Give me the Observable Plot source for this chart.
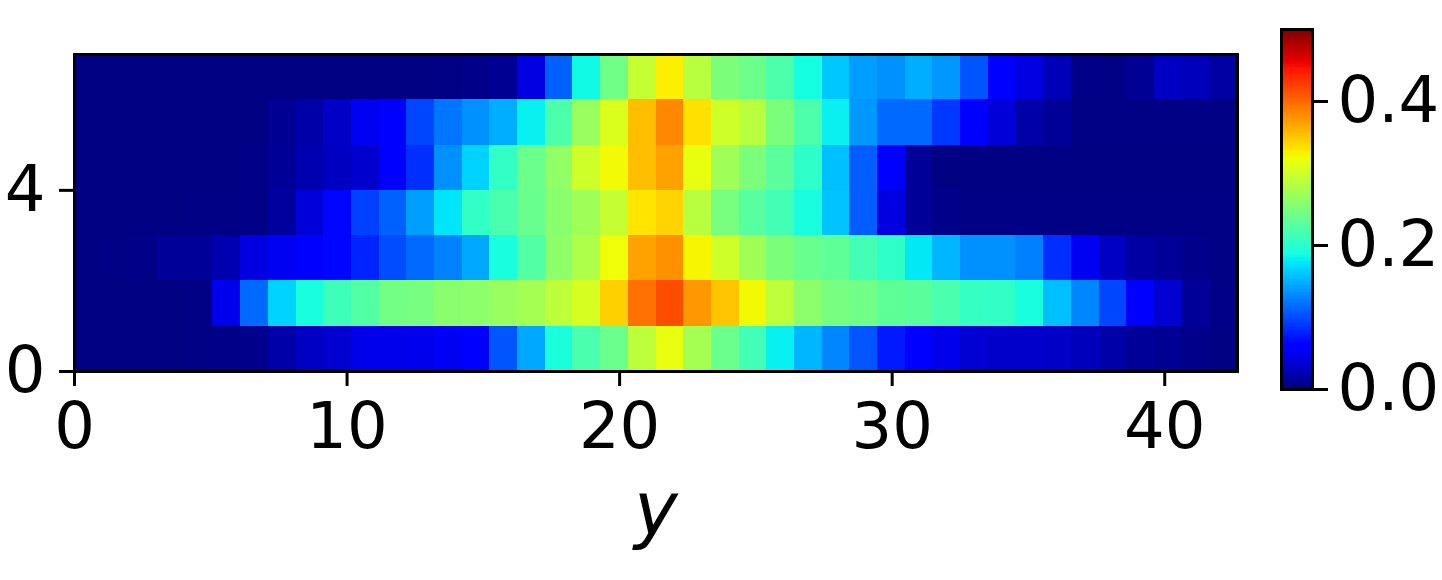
<!DOCTYPE html>
<html><head><meta charset="utf-8">
<script src="https://cdn.jsdelivr.net/npm/d3@7"></script>
<script src="https://cdn.jsdelivr.net/npm/@observablehq/plot@0.6"></script>
<style>
body{margin:0;background:#fff;}
#wrap{position:relative;width:1442px;height:580px;font-family:"DejaVu Sans",sans-serif;}
#main{position:absolute;left:0;top:0;}
#bar{position:absolute;left:1260px;top:0;}
</style></head><body><div id="wrap"><div id="main"></div><div id="bar"></div></div>
<script>
// rows from bottom (row0) to top (row6), 42 columns each
const row0=[0.001,0.001,0.001,0.001,0.002,0.003,0.005,0.018,0.029,0.035,0.046,0.046,0.047,0.05,0.058,0.104,0.145,0.19,0.22,0.24,0.29,0.316,0.275,0.24,0.215,0.18,0.152,0.128,0.104,0.075,0.058,0.046,0.035,0.032,0.032,0.031,0.026,0.018,0.011,0.008,0.005,0.001];
const row1=[0.001,0.001,0.001,0.001,0.002,0.046,0.114,0.166,0.19,0.212,0.225,0.245,0.247,0.258,0.26,0.268,0.275,0.29,0.305,0.345,0.395,0.414,0.375,0.35,0.323,0.29,0.26,0.247,0.243,0.233,0.23,0.22,0.207,0.205,0.19,0.156,0.128,0.097,0.058,0.035,0.011,0.003];
const row2=[0.001,0.002,0.004,0.011,0.011,0.02,0.042,0.05,0.058,0.065,0.08,0.10,0.114,0.126,0.145,0.19,0.225,0.26,0.28,0.32,0.369,0.378,0.325,0.30,0.272,0.25,0.238,0.233,0.215,0.203,0.176,0.152,0.133,0.133,0.125,0.085,0.05,0.029,0.015,0.011,0.005,0.002];
const row3=[0.001,0.001,0.001,0.001,0.002,0.002,0.003,0.013,0.038,0.065,0.094,0.11,0.14,0.175,0.205,0.22,0.238,0.258,0.272,0.295,0.334,0.343,0.287,0.248,0.228,0.215,0.19,0.158,0.108,0.042,0.011,0.005,0.002,0.002,0.002,0.002,0.002,0.002,0.002,0.002,0.002,0.002];
const row4=[0.001,0.001,0.001,0.001,0.001,0.001,0.003,0.01,0.02,0.028,0.033,0.057,0.085,0.133,0.166,0.205,0.24,0.263,0.30,0.322,0.354,0.369,0.316,0.272,0.25,0.23,0.203,0.156,0.108,0.06,0.011,0.001,0.001,0.001,0.001,0.001,0.001,0.001,0.001,0.001,0.001,0.001];
const row5=[0.001,0.001,0.001,0.001,0.001,0.001,0.001,0.008,0.018,0.031,0.05,0.058,0.097,0.12,0.133,0.148,0.18,0.221,0.268,0.308,0.354,0.383,0.336,0.30,0.287,0.25,0.221,0.18,0.137,0.114,0.114,0.09,0.058,0.038,0.018,0.011,0.002,0.002,0.002,0.002,0.002,0.002];
const row6=[0.001,0.001,0.001,0.001,0.001,0.001,0.001,0.001,0.001,0.001,0.001,0.001,0.001,0.002,0.004,0.008,0.042,0.11,0.185,0.243,0.295,0.328,0.287,0.25,0.24,0.221,0.188,0.16,0.14,0.133,0.148,0.137,0.104,0.058,0.042,0.025,0.003,0.002,0.008,0.029,0.026,0.015];
const rows=[row0,row1,row2,row3,row4,row5,row6];

const xExtent=42.67;      // horizontal extent of the image
const xTicks=[0,10,20,30,40];
const yTicks=[0,4];
const cbTicks=[0,0.2,0.4];
const colorMin=0, colorMax=0.5;
const xLabel="y";

const nCols=rows[0].length, nRows=rows.length;
const w=xExtent/nCols;
const table=rows.flatMap((r,j)=>r.map((v,i)=>({col:i,row:j,v})));

// matplotlib "jet" colormap
const jetSeg={
  r:[[0,0],[0.35,0],[0.66,1],[0.89,1],[1,0.5]],
  g:[[0,0],[0.125,0],[0.375,1],[0.64,1],[0.91,0],[1,0]],
  b:[[0,0.5],[0.11,1],[0.34,1],[0.65,0],[1,0]]
};
function seg(s,t){
  t=Math.max(0,Math.min(1,t));
  for(let k=1;k<s.length;k++){
    if(t<=s[k][0]){const [x0,y0]=s[k-1],[x1,y1]=s[k];return y0+(y1-y0)*(t-x0)/(x1-x0);}
  }
  return s[s.length-1][1];
}
function jet(t){
  const c=v=>Math.round(v*255);
  return `rgb(${c(seg(jetSeg.r,t))},${c(seg(jetSeg.g,t))},${c(seg(jetSeg.b,t))})`;
}
const colorOpt={type:"linear",domain:[colorMin,colorMax],interpolate:jet};
const baseStyle={fontFamily:"DejaVu Sans",fontSize:"64px",background:"white",color:"black",overflow:"visible"};

const main=Plot.plot({
  width:1260,height:580,
  marginLeft:74,marginRight:23,marginTop:54,marginBottom:209,
  style:baseStyle,
  x:{domain:[0,xExtent]},
  y:{domain:[0,nRows]},
  color:colorOpt,
  marks:[
    Plot.rect(table,{x1:d=>d.col*w,x2:d=>(d.col+1)*w,y1:d=>d.row,y2:d=>d.row+1,fill:"v",shapeRendering:"crispEdges"}),
    Plot.frame({stroke:"black",strokeWidth:3}),
    Plot.axisX({ticks:xTicks,tickFormat:d=>String(d),tickSize:15,tickPadding:16,strokeWidth:3,label:null}),
    Plot.axisY({ticks:yTicks,tickFormat:d=>String(d),tickSize:15,tickPadding:14,strokeWidth:3,label:null}),
    Plot.text([xLabel],{frameAnchor:"bottom",dy:163,lineAnchor:"bottom",fontSize:74,fontStyle:"italic"})
  ]
});
document.getElementById("main").appendChild(main);

const nSteps=256;
const steps=d3.range(nSteps).map(i=>colorMin+(colorMax-colorMin)*i/nSteps);
const dv=(colorMax-colorMin)/nSteps;
const bar=Plot.plot({
  width:182,height:580,
  marginLeft:21,marginRight:130,marginTop:29,marginBottom:191,
  style:baseStyle,
  x:{domain:[0,1],axis:null},
  y:{domain:[colorMin,colorMax]},
  color:colorOpt,
  marks:[
    Plot.rect(steps,{y1:d=>d,y2:d=>d+dv,fill:d=>d+dv/2,shapeRendering:"crispEdges"}),
    Plot.frame({stroke:"black",strokeWidth:3}),
    Plot.axisY({anchor:"right",ticks:cbTicks,tickFormat:".1f",tickSize:15,tickPadding:10,strokeWidth:3,label:null})
  ]
});
document.getElementById("bar").appendChild(bar);
</script></body></html>
